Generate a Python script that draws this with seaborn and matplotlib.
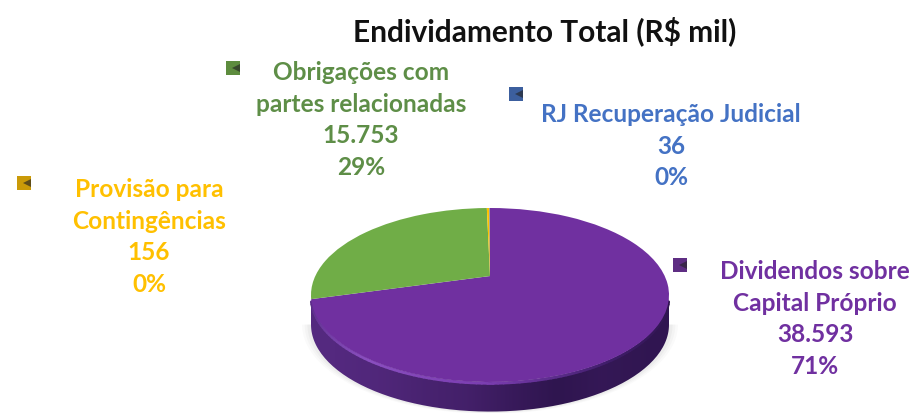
import numpy as np
import matplotlib
matplotlib.use("Agg")
import matplotlib.pyplot as plt
from matplotlib.collections import LineCollection
from matplotlib.patches import PathPatch
from matplotlib.path import Path
from matplotlib.transforms import Transform
import seaborn as sns

categorias = ["Dividendos sobre\nCapital Próprio", "Obrigações com\npartes relacionadas",
              "Provisão para\nContingências", "RJ Recuperação Judicial"]
valores = [38593, 15753, 156, 36]
cores = ["#7030A0", "#70AD47", "#FFC000", "#4472C4"]
cores_texto = ["#7030A0", "#5E8E47", "#FFC000", "#4472C4"]
titulo = "Endividamento Total (R$ mil)"

sns.set_theme(style="white")
plt.rcParams["font.family"] = ["Lato", "DejaVu Sans"]

# posicao dos rotulos e dos marcadores em pixels da imagem
pos_texto = [(815, 319), (361, 120), (149, 237), (671, 146)]
pos_marca = [(680, 265), (233, 68), (24, 183), (516, 94)]


class Perspectiva(Transform):
    # puxa o centro da pizza para cima, como no grafico 3D original
    input_dims = output_dims = 2
    c = 0.218

    def transform_non_affine(self, xy):
        xy = np.asarray(xy, dtype=float)
        d = 1 + self.c * xy[:, 1]
        return np.column_stack([xy[:, 0] * np.sqrt(1 - self.c ** 2) / d,
                                (xy[:, 1] + self.c) / d])


fig = plt.figure(figsize=(9.12, 4.13), dpi=100)
ax = fig.add_axes([0, 0, 1, 1])
ax.set_xlim(0, 912)
ax.set_ylim(413, 0)
ax.axis("off")

# eixo da pizza: elipse de 311 a 669 e de 208 a 382 px, com folga ate o fim da imagem
axp = fig.add_axes([291 / 912, 0, 398 / 912, 205 / 413])
axp.axis("off")

prof = 0.34
t = np.linspace(np.pi, 2 * np.pi, 120)
x_lado = np.r_[np.cos(t), np.cos(t[::-1])]
y_lado = np.r_[np.sin(t) - prof, np.sin(t[::-1])]

# sombra suave embaixo
for k, a in zip([0.05, 0.035, 0.02], [0.04, 0.05, 0.07]):
    axp.fill(np.cos(t) * (1 + k), np.sin(t) * (1 + k / 2) - prof, color="#888888", alpha=a, lw=0, clip_on=False)

# lateral com degrade horizontal
grad = np.array([[0, 0.1, 0.3, 0.45, 0.75, 1.0, 0.85, 0.95]])
mapa = sns.blend_palette(["#54297F", "#2F154F"], as_cmap=True)
img = axp.imshow(grad, extent=(-1, 1, -1.36, 0.1), cmap=mapa, aspect="auto", interpolation="bilinear", zorder=1)
lado = PathPatch(Path(np.column_stack([x_lado, y_lado])), transform=axp.transData, fc="none", ec="none")
axp.add_patch(lado)
img.set_clip_path(lado)

# brilho da borda
s = np.linspace(np.pi * 1.02, np.pi * 1.98, 100)
pts = np.column_stack([np.cos(s), np.sin(s) - 0.015]).reshape(-1, 1, 2)
segs = np.concatenate([pts[:-1], pts[1:]], axis=1)
tons = sns.blend_palette(["#5A2C88", "#8A4FC0", "#7A3DB0", "#3E1C68", "#2F154F"], 99)
axp.add_collection(LineCollection(segs, colors=tons, linewidths=2, zorder=2, capstyle="round"))

fatias, _ = axp.pie(valores, colors=cores, startangle=90, counterclock=False, radius=1,
                    wedgeprops={"linewidth": 0})
for f in fatias:
    f.set_transform(Perspectiva() + axp.transData)
    f.set_zorder(3)
axp.set_aspect("auto")
axp.set_xlim(-1 - 20 / 179, 1 + 20 / 179)
axp.set_ylim(-1 - 31 / 87, 1)
axp.patch.set_alpha(0)

# titulo e rotulos
ax.text(545, 31, titulo, ha="center", va="center", fontsize=21.5, fontweight="bold", color="#111111")
total = sum(valores)
for nome, v, cor, cor_t, (xt, yt), (xm, ym) in zip(categorias, valores, cores, cores_texto, pos_texto, pos_marca):
    rotulo = f"{nome}\n{v:,}".replace(",", ".") + f"\n{round(v / total * 100)}%"
    ax.text(xt, yt, rotulo, ha="center", va="center", fontsize=17.6, fontweight="bold",
            color=cor_t, linespacing=1.46)
    escura = sns.dark_palette(cor, 5)[3]
    ax.plot([xm], [ym], marker="s", ms=10, color=escura, mew=0)
    ax.plot([xm + 3], [ym], marker="<", ms=5.5, color=sns.dark_palette(cor, 5)[1], mew=0)

fig.savefig("out.png", dpi=100)
